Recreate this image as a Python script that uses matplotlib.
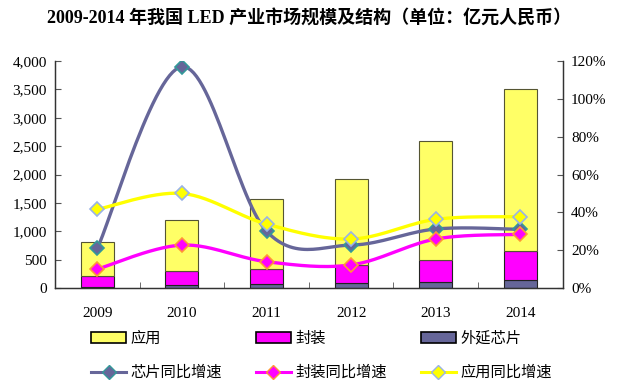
import numpy as np
import matplotlib
matplotlib.use("Agg")
import matplotlib.pyplot as plt
from matplotlib.lines import Line2D
from matplotlib.patches import Patch
from matplotlib.ticker import FuncFormatter

plt.rcParams['font.family'] = ['Liberation Serif', 'Noto Sans CJK SC', 'DejaVu Sans']

# data
years = ['2009', '2010', '2011', '2012', '2013', '2014']
chip = [20, 60, 65, 80, 106, 140]              # 外延芯片
package = [190, 240, 270, 325, 387, 517]       # 封装
application = [600, 900, 1228, 1515, 2097, 2843]  # 应用
chip_growth = [21, 117, 30, 22.7, 31.2, 31]    # 芯片同比增速 %
package_growth = [10, 22.7, 13.9, 12.2, 25.9, 28.4]  # 封装同比增速 %
app_growth = [41.6, 50, 33.8, 25.9, 36.3, 37.7]     # 应用同比增速 %


def smooth(x, y, n=30):
    # Excel-style smoothed line (Catmull-Rom bezier through the points)
    x = np.asarray(x, float)
    y = np.asarray(y, float)
    px = np.concatenate([[x[0]], x, [x[-1]]])
    py = np.concatenate([[y[0]], y, [y[-1]]])
    t = np.linspace(0, 1, n)
    xs, ys = [], []
    for i in range(1, len(px) - 2):
        p0x, p1x, p2x, p3x = px[i], px[i] + (px[i + 1] - px[i - 1]) / 6, px[i + 1] - (px[i + 2] - px[i]) / 6, px[i + 1]
        p0y, p1y, p2y, p3y = py[i], py[i] + (py[i + 1] - py[i - 1]) / 6, py[i + 1] - (py[i + 2] - py[i]) / 6, py[i + 1]
        b = [(1 - t) ** 3, 3 * (1 - t) ** 2 * t, 3 * (1 - t) * t ** 2, t ** 3]
        xs.append(b[0] * p0x + b[1] * p1x + b[2] * p2x + b[3] * p3x)
        ys.append(b[0] * p0y + b[1] * p1y + b[2] * p2y + b[3] * p3y)
    return np.concatenate(xs), np.concatenate(ys)


fig = plt.figure(figsize=(6.19, 3.84), dpi=100)
ax = fig.add_axes([0.089, 0.25, 0.82, 0.591])
ax2 = ax.twinx()

x = np.arange(len(years))
w = 0.39
c_chip, c_pack, c_app = '#666699', '#FF00FF', '#FFFF66'
ax.bar(x, chip, w, color=c_chip, edgecolor='#222222', linewidth=0.8, zorder=2)
ax.bar(x, package, w, bottom=chip, color=c_pack, edgecolor='#222222', linewidth=0.8, zorder=2)
bottom2 = np.array(chip) + np.array(package)
ax.bar(x, application, w, bottom=bottom2, color=c_app, edgecolor='#555533', linewidth=0.8, zorder=2)

lw = 2.4
for vals, lc, mfc, mec in [(chip_growth, '#666699', '#666699', '#339999'),
                           (package_growth, '#FF00FF', '#FF00FF', '#FF9933'),
                           (app_growth, '#FFFF00', '#FFFF00', '#99B3E6')]:
    sx, sy = smooth(x, vals)
    ax2.plot(sx, sy, color=lc, lw=lw, solid_capstyle='round', zorder=3)
    ax2.plot(x, vals, ls='none', marker='D', ms=7.5, mfc=mfc, mec=mec, mew=1.2, zorder=4)

ax.set_xlim(-0.5, 5.5)
ax.set_ylim(0, 4000)
ax2.set_ylim(0, 120)
ax.set_yticks(range(0, 4001, 500))
ax.yaxis.set_major_formatter(FuncFormatter(lambda v, p: f'{int(v):,}'))
ax2.set_yticks(range(0, 121, 20))
ax2.yaxis.set_major_formatter(FuncFormatter(lambda v, p: f'{int(v)}%'))

ax.set_xticks(x)
ax.set_xticklabels(years)
ax.set_xticks(np.arange(-0.5, 6, 1), minor=True)
ax.tick_params(axis='x', which='major', length=0, pad=14, labelsize=11)
ax.tick_params(axis='x', which='minor', direction='in', length=4, color='#555555')
ax.tick_params(axis='y', direction='in', length=4, color='#555555', labelsize=11, pad=6)
ax2.tick_params(axis='y', direction='in', length=4, color='#555555', labelsize=11, pad=6)

for a in (ax, ax2):
    a.spines['top'].set_visible(False)
    for s in ('left', 'right', 'bottom'):
        a.spines[s].set_color('#333333')
        a.spines[s].set_linewidth(0.9)

fig.text(0.5, 0.952, '2009-2014 年我国 LED 产业市场规模及结构（单位：亿元人民币）',
         ha='center', va='center', fontsize=13, fontweight='bold')

h_app = Patch(facecolor=c_app, edgecolor='black', linewidth=1.2)
h_pack = Patch(facecolor=c_pack, edgecolor='black', linewidth=1.2)
h_chip = Patch(facecolor=c_chip, edgecolor='black', linewidth=1.2)
l_chip = Line2D([], [], color='#666699', lw=2.2, marker='D', ms=7, mfc='#666699', mec='#339999')
l_pack = Line2D([], [], color='#FF00FF', lw=2.2, marker='D', ms=7, mfc='#FF00FF', mec='#FF9933')
l_app = Line2D([], [], color='#FFFF00', lw=2.2, marker='D', ms=7, mfc='#FFFF00', mec='#99B3E6')
handles = [h_app, l_chip, h_pack, l_pack, h_chip, l_app]
labels = ['应用', '芯片同比增速', '封装', '封装同比增速', '外延芯片', '应用同比增速']
fig.legend(handles, labels, ncol=3, loc='upper left', bbox_to_anchor=(0.147, 0.137),
           frameon=False, fontsize=11, handlelength=2.3, handletextpad=0.3,
           columnspacing=2.2, labelspacing=1.3, borderaxespad=0, borderpad=0)

fig.savefig('out.png', dpi=100)
